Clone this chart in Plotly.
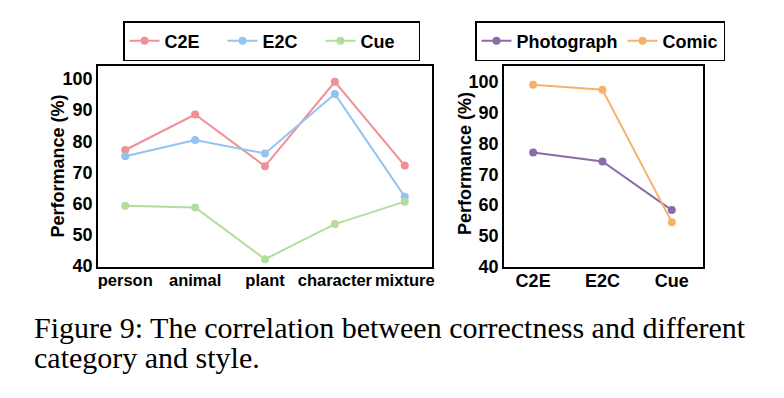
import plotly.graph_objects as go

categories = ["person", "animal", "plant", "character", "mixture"]
c2e = [77.2, 88.6, 72.0, 99.1, 72.2]
e2c = [75.2, 80.4, 76.1, 95.2, 62.2]
cue = [59.3, 58.7, 42.1, 53.4, 60.6]

styles = ["C2E", "E2C", "Cue"]
photograph = [77.0, 74.1, 58.4]
comic = [98.9, 97.3, 54.5]

yticks = [40, 50, 60, 70, 80, 90, 100]

# page has an 8px body margin; figure sized to fit the 784x398 window
OFF = 8
W, H = 784 - 2 * OFF, 398 - 2 * OFF
def fx(p): return (p - OFF) / W
def fy(p): return 1 - (p - OFF) / H

fig = go.Figure()
left_series = [("C2E", c2e, "#f28f95"), ("E2C", e2c, "#93c3f0"), ("Cue", cue, "#b3dd9c")]
for name, vals, col in left_series:
    fig.add_trace(go.Scatter(x=categories, y=vals, name=name, mode="lines+markers",
                             line=dict(color=col, width=2), marker=dict(color=col, size=8),
                             xaxis="x", yaxis="y", legend="legend"))
right_series = [("Photograph", photograph, "#8b6ca7"), ("Comic", comic, "#f6b26d")]
for name, vals, col in right_series:
    fig.add_trace(go.Scatter(x=styles, y=vals, name=name, mode="lines+markers",
                             line=dict(color=col, width=2), marker=dict(color=col, size=8),
                             xaxis="x2", yaxis="y2", legend="legend2"))

bold = dict(family="Liberation Sans", color="black", weight="bold")
axline = dict(showline=True, mirror=True, linecolor="black", linewidth=1.5,
              showgrid=False, zeroline=False, ticks="", automargin=False)

fig.update_layout(
    template="none",
    width=W, height=H, margin=dict(l=0, r=0, t=0, b=0),
    plot_bgcolor="white", paper_bgcolor="white", showlegend=True,
    xaxis=dict(domain=[fx(98), fx(432)], range=[-0.39, 4.39], anchor="y", tickangle=0,
               tickfont=dict(size=16.5, **bold), ticklabelstandoff=-3, **axline),
    yaxis=dict(domain=[fy(267), fy(66)], range=[39.6, 104.2], tickvals=yticks, anchor="x",
               tickfont=dict(size=18, **bold), ticklabelstandoff=0, **axline),
    xaxis2=dict(domain=[fx(504), fx(703)], range=[-0.42, 2.45], anchor="y2", tickangle=0,
                tickfont=dict(size=18, **bold), ticklabelstandoff=-3, **axline),
    yaxis2=dict(domain=[fy(267), fy(66)], range=[40, 105], tickvals=yticks, anchor="x2",
                tickfont=dict(size=18, **bold), ticklabelstandoff=0, **axline),
    legend=dict(orientation="h", x=fx(123), y=fy(21), xanchor="left", yanchor="top",
                bordercolor="black", borderwidth=1.5, bgcolor="white",
                font=dict(size=18, **bold), itemwidth=30, tracegroupgap=0,
                entrywidth=53),
    legend2=dict(orientation="h", x=fx(475), y=fy(21), xanchor="left", yanchor="top",
                 bordercolor="black", borderwidth=1.5, bgcolor="white",
                 font=dict(size=18, **bold), itemwidth=30, tracegroupgap=0),
    annotations=[
        dict(text="Performance (%)", textangle=-90, x=fx(57), y=fy(166.5),
             xref="paper", yref="paper", xanchor="center", yanchor="middle",
             showarrow=False, font=dict(size=18, **bold)),
        dict(text="Performance (%)", textangle=-90, x=fx(465), y=fy(164),
             xref="paper", yref="paper", xanchor="center", yanchor="middle",
             showarrow=False, font=dict(size=18, **bold)),
        dict(text="Figure 9: The correlation between correctness and different",
             x=fx(32), y=fy(309), xref="paper", yref="paper", xanchor="left", yanchor="top",
             align="left", showarrow=False, font=dict(family="Liberation Serif", size=30, color="black")),
        dict(text="category and style.",
             x=fx(32), y=fy(339), xref="paper", yref="paper", xanchor="left", yanchor="top",
             align="left", showarrow=False, font=dict(family="Liberation Serif", size=30, color="black")),
    ],
)

fig.write_html("out.html")
